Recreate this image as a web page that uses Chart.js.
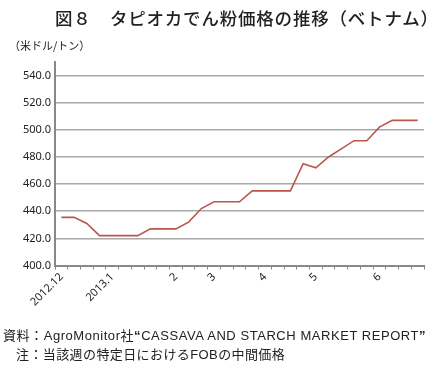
<!DOCTYPE html>
<html>
<head>
<meta charset="utf-8">
<script src="https://cdn.jsdelivr.net/npm/chart.js@4"></script>
<style>
  body { margin: 0; background: #fff; width: 437px; height: 369px; position: relative; overflow: hidden; font-family: "Noto Sans CJK JP", sans-serif; color: #222; }
  #wrap { position: absolute; left: 0; top: 0; width: 437px; height: 369px; }
  .txt { position: absolute; white-space: nowrap; }
  #title { left: 55px; top: 5px; font-size: 17.5px; font-weight: 500; letter-spacing: 0.8px; }
  #unit { left: 9px; top: 37px; font-size: 11px; }
  #src, #note { font-family: "Liberation Sans", "Noto Sans CJK JP", sans-serif; font-size: 13px; }
  #src { left: 3px; top: 325px; letter-spacing: 0.55px; }
  #note { left: 16px; top: 344px; letter-spacing: 0.4px; }
  .cjk { font-family: "Noto Sans CJK JP", sans-serif; }
</style>
</head>
<body>
<div id="wrap"><canvas id="myChart"></canvas></div>
<div class="txt" id="title">図８　タピオカでん粉価格の推移（ベトナム）</div>
<div class="txt" id="unit">（米ドル/トン）</div>
<div class="txt" id="src"><span class="cjk">資料：</span>AgroMonitor<span class="cjk">社</span><b>“</b>CASSAVA AND STARCH MARKET REPORT<b>”</b></div>
<div class="txt" id="note"><span class="cjk">注：当該週の特定日における</span>FOB<span class="cjk">の中間価格</span></div>
<script>
// Semanas (2012年12月〜2013年6月), etiqueta sólo al inicio de cada mes
const semanas = ['2012.12', '', '', '', '2013.1', '', '', '', '', '2', '', '', '3', '', '', '',
    '4', '', '', '', '5', '', '', '', '', '6', '', '', ''];

// Precio (米ドル/トン)
const precios = [435.5, 435.5, 431, 422, 422, 422, 422, 427, 427, 427, 432, 442, 447, 447, 447,
    455, 455, 455, 455, 475, 472, 480, 486, 492, 492, 502, 507, 507, 507];

const ejeY = { min: 400, max: 550, paso: 20, maxEtiqueta: 540 };

const ctx = document.getElementById('myChart').getContext('2d');

new Chart(ctx, {
    type: 'line',
    data: {
        labels: semanas,
        datasets: [{
            data: precios,
            borderColor: '#b9574f',
            borderWidth: 1.6,
            pointRadius: 0,
            tension: 0,
            fill: false
        }]
    },
    options: {
        responsive: true,
        maintainAspectRatio: false,
        animation: false,
        layout: { padding: { top: 62, right: 13, left: 0, bottom: 0 } },
        plugins: {
            legend: { display: false },
            tooltip: { enabled: false }
        },
        scales: {
            x: {
                offset: true,
                grid: {
                    offset: true,
                    drawOnChartArea: false,
                    drawTicks: true,
                    tickLength: 4,
                    color: '#888'
                },
                border: { color: '#888', width: 2 },
                ticks: {
                    autoSkip: false,
                    maxRotation: 45,
                    minRotation: 45,
                    padding: 1,
                    color: '#222',
                    font: { family: 'Noto Sans', size: 11 }
                },
                afterFit: function(scale) { scale.height = 103.5; }
            },
            y: {
                min: ejeY.min,
                max: ejeY.max,
                afterBuildTicks: function(scale) {
                    scale.ticks = scale.ticks.filter(t => t.value <= ejeY.maxEtiqueta);
                },
                grid: {
                    color: '#a8a8a8',
                    lineWidth: 1.5,
                    drawTicks: false
                },
                border: { color: '#888', width: 2 },
                ticks: {
                    stepSize: ejeY.paso,
                    padding: 4,
                    color: '#222',
                    font: { family: 'Noto Sans', size: 11 },
                    callback: function(value) { return value.toFixed(1); }
                },
                afterFit: function(scale) { scale.width = 55; }
            }
        }
    }
});
</script>
</body>
</html>
